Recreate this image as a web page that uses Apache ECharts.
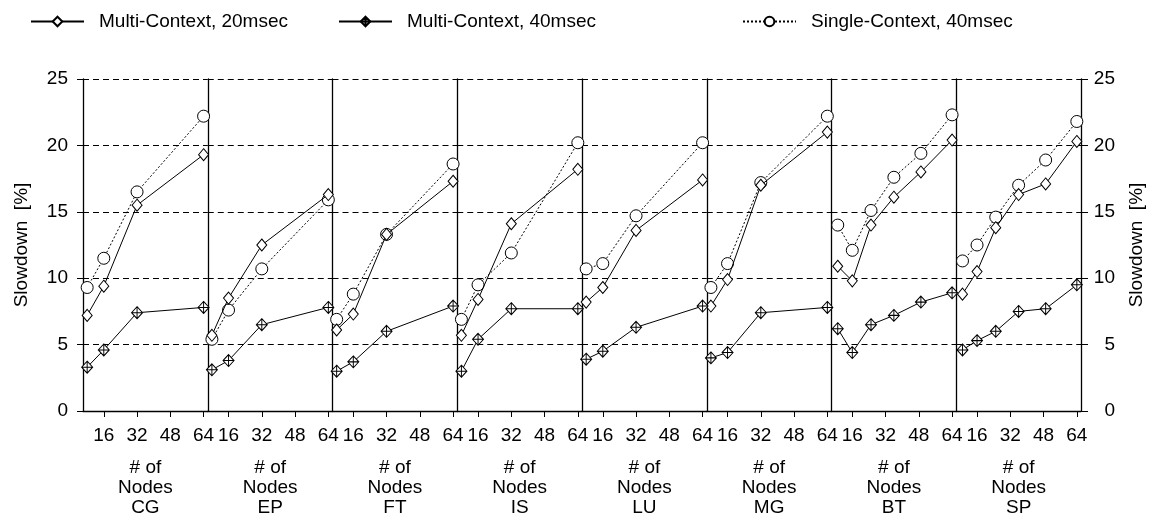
<!DOCTYPE html>
<html>
<head>
<meta charset="utf-8">
<script src="https://cdn.jsdelivr.net/npm/echarts@6/dist/echarts.min.js"></script>
<style>
  html, body { margin: 0; padding: 0; background: #fff; }
  #chart { width: 1154px; height: 524px; }
</style>
</head>
<body>
<div id="chart"></div>
<script>
// benchmarks, one panel each
const panels = ['CG', 'EP', 'FT', 'IS', 'LU', 'MG', 'BT', 'SP'];
// node counts (BT/SP need square numbers)
const nodesPow = [8, 16, 32, 64];
const nodesSq = [9, 16, 25, 36, 49, 64];
const panelNodes = [nodesPow, nodesPow, nodesPow, nodesPow, nodesPow, nodesPow, nodesSq, nodesSq];
const xTicks = [16, 32, 48, 64];

// slowdown [%]
const multi20 = [
  [7.2, 9.4, 15.5, 19.3],
  [5.7, 8.5, 12.5, 16.3],
  [6.1, 7.3, 13.3, 17.3],
  [5.7, 8.4, 14.1, 18.2],
  [8.2, 9.3, 13.6, 17.4],
  [7.9, 9.9, 17.0, 21.0],
  [10.9, 9.8, 14.0, 16.1, 18.0, 20.4],
  [8.8, 10.5, 13.8, 16.3, 17.1, 20.3]
];
const multi40 = [
  [3.3, 4.6, 7.4, 7.8],
  [3.1, 3.8, 6.5, 7.8],
  [3.0, 3.7, 6.0, 7.9],
  [3.0, 5.4, 7.7, 7.7],
  [3.9, 4.5, 6.3, 7.9],
  [4.0, 4.4, 7.4, 7.8],
  [6.2, 4.4, 6.5, 7.2, 8.2, 8.9],
  [4.6, 5.3, 6.0, 7.5, 7.7, 9.5]
];
const single40 = [
  [9.3, 11.5, 16.5, 22.2],
  [5.4, 7.6, 10.7, 15.9],
  [6.9, 8.8, 13.3, 18.6],
  [6.9, 9.5, 11.9, 20.2],
  [10.7, 11.1, 14.7, 20.2],
  [9.3, 11.1, 17.2, 22.2],
  [14.0, 12.1, 15.1, 17.6, 19.4, 22.3],
  [11.3, 12.5, 14.6, 17.0, 18.9, 21.8]
];

const NAME_M20 = 'Multi-Context, 20msec';
const NAME_M40 = 'Multi-Context, 40msec';
const NAME_S40 = 'Single-Context, 40msec';

const font = "'Liberation Sans', Arial, sans-serif";
const fs = 19;
const crossDiamond = 'path://M0,0 L5,6 L0,12 L-5,6 Z M0,0 L0,12 M-5,6 L5,6';

const plotLeft = 83, plotRight = 1081, plotTop = 79, plotH = 332;
const panelW = (plotRight - plotLeft) / panels.length;

const chart = echarts.init(document.getElementById('chart'), null, { renderer: 'canvas' });

const grids = [], xAxes = [], yAxes = [], series = [];

panels.forEach((p, i) => {
  grids.push({ left: plotLeft + i * panelW, top: plotTop, width: panelW, height: plotH });

  xAxes.push({
    type: 'value', gridIndex: i, min: 6, max: 66,
    axisLine: { show: true, onZero: false, lineStyle: { color: '#000', width: 1.3 } },
    axisTick: { show: true, customValues: xTicks, length: 6, lineStyle: { color: '#000' } },
    axisLabel: { customValues: xTicks, color: '#000', fontSize: fs, fontFamily: font, margin: 15 },
    splitLine: { show: false },
    name: '# of\nNodes\n' + p,
    nameLocation: 'middle', nameGap: 47,
    nameTextStyle: { color: '#000', fontSize: fs, fontFamily: font, lineHeight: 20 }
  });

  const first = i === 0;
  yAxes.push({
    type: 'value', gridIndex: i, min: 0, max: 25, interval: 5,
    axisLine: { show: true, lineStyle: { color: '#000', width: 1.3 } },
    axisTick: { show: first, length: 6, lineStyle: { color: '#000' } },
    axisLabel: { show: first, color: '#000', fontSize: fs, fontFamily: font, margin: 15 },
    splitLine: { show: true, lineStyle: { color: '#000', type: [6, 4], width: 1 } },
    name: first ? 'Slowdown  [%]' : '',
    nameLocation: 'middle', nameGap: 52, nameRotate: 90,
    nameTextStyle: { color: '#000', fontSize: fs, fontFamily: font }
  });

  const xs = panelNodes[i];
  const pts = vals => xs.map((x, j) => [x, vals[j]]);

  series.push({
    name: NAME_S40, type: 'line', xAxisIndex: i, yAxisIndex: i,
    data: pts(single40[i]), symbol: 'circle', symbolSize: 12,
    itemStyle: { color: '#fff', borderColor: '#000', borderWidth: 1 },
    lineStyle: { color: '#000', width: 1, type: [2, 2] },
    z: 2, animation: false
  });
  series.push({
    name: NAME_M20, type: 'line', xAxisIndex: i, yAxisIndex: i,
    data: pts(multi20[i]), symbol: 'diamond', symbolSize: [10, 12],
    itemStyle: { color: '#fff', borderColor: '#000', borderWidth: 1 },
    lineStyle: { color: '#000', width: 1 },
    z: 3, animation: false
  });
  series.push({
    name: NAME_M40, type: 'line', xAxisIndex: i, yAxisIndex: i,
    data: pts(multi40[i]), symbol: crossDiamond, symbolSize: [11, 12],
    itemStyle: { color: '#fff', borderColor: '#000', borderWidth: 1 },
    lineStyle: { color: '#000', width: 1 },
    z: 4, animation: false
  });
});

// right-hand axis on last panel
yAxes.push({
  type: 'value', gridIndex: panels.length - 1, position: 'right', min: 0, max: 25, interval: 5,
  axisLine: { show: true, lineStyle: { color: '#000', width: 1.3 } },
  axisTick: { show: true, length: 7, lineStyle: { color: '#000' } },
  axisLabel: { color: '#000', fontSize: fs, fontFamily: font, margin: 34, align: 'right' },
  splitLine: { show: false },
  name: 'Slowdown  [%]', nameLocation: 'middle', nameGap: 46, nameRotate: 90,
  nameTextStyle: { color: '#000', fontSize: fs, fontFamily: font }
});

const legendBase = {
  top: 7, itemWidth: 53, itemHeight: 12,
  textStyle: { color: '#000', fontSize: fs, fontFamily: font, padding: [0, 0, 0, 10] }
};

chart.setOption({
  backgroundColor: '#fff',
  animation: false,
  legend: [
    Object.assign({}, legendBase, { left: 25, data: [NAME_M20] }),
    Object.assign({}, legendBase, { left: 333, data: [NAME_M40] }),
    Object.assign({}, legendBase, { left: 737, data: [NAME_S40] })
  ],
  grid: grids,
  xAxis: xAxes,
  yAxis: yAxes,
  series: series
});
</script>
</body>
</html>
